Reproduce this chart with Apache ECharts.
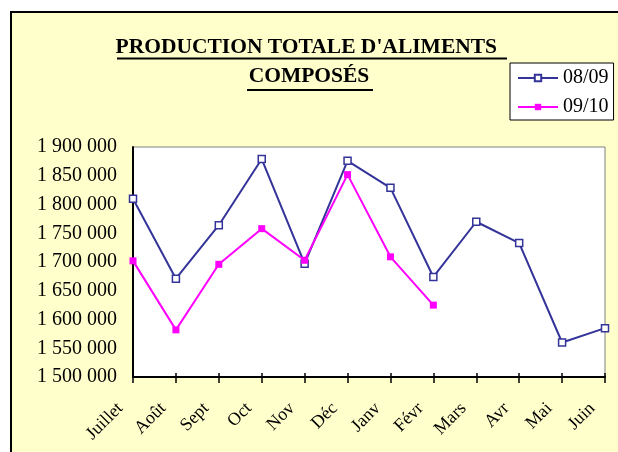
<!DOCTYPE html>
<html>
<head>
<meta charset="utf-8">
<script src="https://cdn.jsdelivr.net/npm/echarts@6/dist/echarts.min.js"></script>
<style>
  html, body { margin: 0; padding: 0; background: #fff; }
  #main { width: 618px; height: 452px; }
</style>
</head>
<body>
<div id="main"></div>
<script>
// mois de la campagne (juillet -> juin)
var mois = ['Juillet', 'Août', 'Sept', 'Oct', 'Nov', 'Déc', 'Janv', 'Févr', 'Mars', 'Avr', 'Mai', 'Juin'];
var prod_0809 = [1810000, 1671000, 1764000, 1879000, 1697000, 1876000, 1829000, 1674000, 1770000, 1733000, 1560000, 1585000];
var prod_0910 = [1702000, 1582000, 1696000, 1758000, 1703000, 1852000, 1709000, 1625000];
var noms = ['08/09', '09/10'];

var police = 'Liberation Serif, Times New Roman, serif';

function milliers(v) {
    return String(v).replace(/\B(?=(\d{3})+(?!\d))/g, ' ');
}

var myChart = echarts.init(document.getElementById('main'));
var option = {
    backgroundColor: '#ffffff',
    animation: false,
    title: {
        text: "PRODUCTION TOTALE D'ALIMENTS \nCOMPOSÉS",
        left: 'center',
        top: 33,
        padding: 0,
        textStyle: {
            fontFamily: police,
            fontSize: 21.5,
            fontWeight: 'bold',
            color: '#000',
            lineHeight: 29
        }
    },
    graphic: [
        {
            type: 'rect', z: -10,
            shape: { x: 11, y: 12, width: 640, height: 480 },
            style: { fill: '#FFFFCC', stroke: '#000', lineWidth: 2 }
        },
        // soulignement du titre
        { type: 'line', shape: { x1: 117, y1: 58.5, x2: 507, y2: 58.5 }, style: { stroke: '#000', lineWidth: 2 } },
        { type: 'line', shape: { x1: 247, y1: 90, x2: 373, y2: 90 }, style: { stroke: '#000', lineWidth: 2 } }
    ],
    legend: {
        data: noms,
        orient: 'vertical',
        left: 510,
        top: 63,
        padding: [5, 5, 3, 7],
        itemGap: 9,
        itemWidth: 40,
        itemHeight: 8,
        backgroundColor: '#fff',
        borderColor: '#000',
        borderWidth: 1,
        textStyle: { fontFamily: police, fontSize: 20, color: '#000' }
    },
    grid: {
        left: 133, top: 147, width: 472, height: 230,
        show: true,
        backgroundColor: '#fff',
        borderColor: '#808080',
        borderWidth: 1
    },
    xAxis: [
        {
            type: 'category',
            data: mois,
            boundaryGap: false,
            axisLine: { lineStyle: { color: '#000', width: 2 } },
            axisTick: { show: true, length: 6, lineStyle: { color: '#000', width: 1.5 } },
            axisLabel: {
                rotate: 45,
                interval: 0,
                margin: 16,
                padding: [0, 18, 0, 0],
                fontFamily: police,
                fontSize: 18,
                color: '#000'
            }
        },
        {
            type: 'category',
            data: mois,
            position: 'bottom',
            boundaryGap: false,
            axisLine: { show: false },
            axisTick: { show: true, inside: true, length: 4, lineStyle: { color: '#000', width: 1.5 } },
            axisLabel: { show: false }
        }
    ],
    yAxis: {
        type: 'value',
        min: 1500000,
        max: 1900000,
        interval: 50000,
        axisLine: { show: true, lineStyle: { color: '#000', width: 2 } },
        axisTick: { show: false },
        splitLine: { show: false },
        axisLabel: {
            margin: 16,
            fontFamily: police,
            fontSize: 20,
            color: '#000',
            formatter: milliers
        }
    },
    series: [
        {
            name: '08/09',
            type: 'line',
            data: prod_0809,
            symbol: 'rect',
            symbolSize: 7,
            color: '#333399',
            lineStyle: { color: '#333399', width: 2 },
            itemStyle: { color: '#fff', borderColor: '#333399', borderWidth: 1.5 }
        },
        {
            name: '09/10',
            type: 'line',
            data: prod_0910,
            symbol: 'rect',
            symbolSize: 7,
            color: '#FF00FF',
            lineStyle: { color: '#FF00FF', width: 2 },
            itemStyle: { color: '#FF00FF' }
        }
    ]
};
myChart.setOption(option);
</script>
</body>
</html>
